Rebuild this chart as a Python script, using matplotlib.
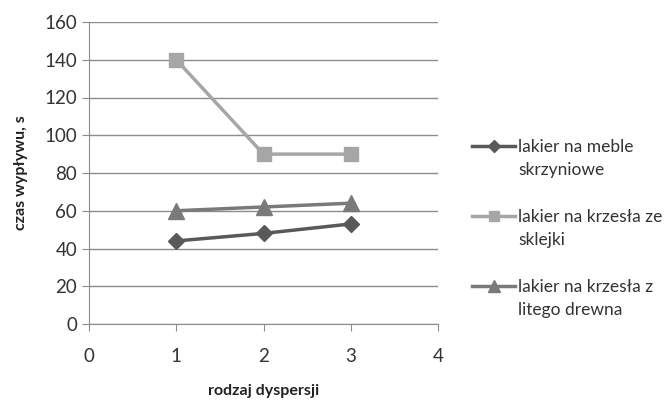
import matplotlib.pyplot as plt
from matplotlib.lines import Line2D

plt.rcParams['font.family'] = ['Lato', 'DejaVu Sans']

# rodzaj dyspersji
x = [1, 2, 3]
meble = [44, 48, 53]
sklejka = [140, 90, 90]
drewno = [60, 62, 64]
labels = [("lakier na meble", "skrzyniowe"),
          ("lakier na krzesła ze", "sklejki"),
          ("lakier na krzesła z", "litego drewna")]

fig = plt.figure(figsize=(6.67, 4.03), dpi=100)
ax = fig.add_axes([89 / 667, 79 / 403, 349 / 667, 302 / 403])

l1, = ax.plot(x, meble, color="#595959", lw=2.5, marker="D", ms=8)
l2, = ax.plot(x, sklejka, color="#a6a6a6", lw=2.5, marker="s", ms=10)
l3, = ax.plot(x, drewno, color="#7a7a7a", lw=2.5, marker="^", ms=11)

ax.set_xlim(0, 4)
ax.set_ylim(0, 160)
ax.set_xticks(range(0, 5))
ax.set_yticks(range(0, 161, 20))
ax.grid(axis="y", color="#8c8c8c", lw=1)
ax.set_axisbelow(True)
for s in ["top", "right"]:
    ax.spines[s].set_visible(False)
for s in ["left", "bottom"]:
    ax.spines[s].set_color("#8c8c8c")
ax.tick_params(axis="both", colors="#8c8c8c", labelcolor="#333333",
               labelsize=13.5, length=5)
ax.tick_params(axis="x", pad=12)

ax.set_xlabel("rodzaj dyspersji", fontsize=11.5, fontweight="bold",
              color="#222222", labelpad=14)
ax.set_ylabel("czas wypływu, s", fontsize=11.5, fontweight="bold",
              color="#222222", labelpad=12)

# legenda: druga linia etykiety i odstęp jako puste wpisy
blank = Line2D([], [], color="none")
handles, texts = [], []
for h, (a, b) in zip([l1, l2, l3], labels):
    handles += [h, blank, blank]
    texts += [a, b, " "]
handles, texts = handles[:-1], texts[:-1]

fig.legend(handles, texts, loc="upper left",
           bbox_to_anchor=(472 / 667, 1 - 139 / 403), frameon=False,
           borderpad=0, borderaxespad=0,
           fontsize=12.5, handlelength=2.5, handletextpad=0.15,
           labelspacing=0.42, labelcolor="#333333", markerscale=0.75)

fig.savefig("out.png", dpi=100)
